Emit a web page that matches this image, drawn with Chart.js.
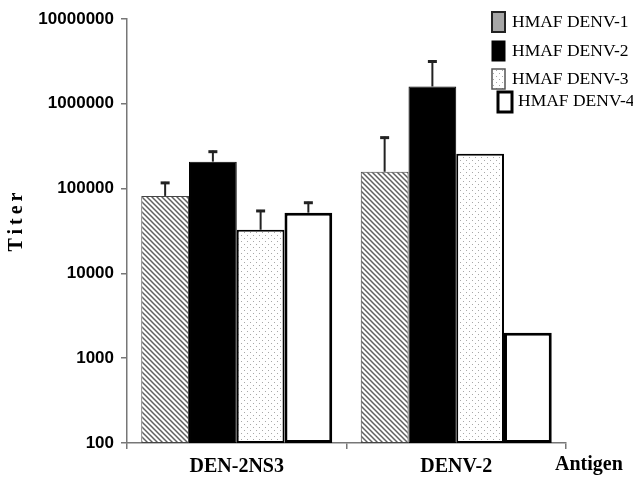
<!DOCTYPE html>
<html>
<head>
<meta charset="utf-8">
<script src="https://cdn.jsdelivr.net/npm/chart.js@4/dist/chart.umd.min.js"></script>
<style>
  html, body { margin: 0; padding: 0; background: #fff; }
  #wrap { width: 633px; height: 479px; position: relative; }
</style>
</head>
<body>
<div id="wrap"><canvas id="c" width="633" height="479"></canvas></div>
<script>
// ---- data ----
const categories = ['DEN-2NS3', 'DENV-2'];
const seriesLabels = ['HMAF DENV-1', 'HMAF DENV-2', 'HMAF DENV-3', 'HMAF DENV-4'];
const denv1 = [82000, 158000];
const denv2 = [208000, 1600000];
const denv3 = [32700, 258000];
const denv4 = [52000, 2000];
// upper end of error bars (null = none)
const denv1Err = [120000, 410000];
const denv2Err = [280000, 3240000];
const denv3Err = [56000, null];
const denv4Err = [70000, null];
const yTickValues = [100, 1000, 10000, 100000, 1000000, 10000000];
const yAxisTitle = 'Titer';
const xAxisTitle = 'Antigen';

// ---- patterns ----
function hatchPattern() {
  const s = 5;
  const c = document.createElement('canvas');
  c.width = s; c.height = s;
  const g = c.getContext('2d');
  g.fillStyle = '#fff'; g.fillRect(0, 0, s, s);
  g.strokeStyle = '#606060'; g.lineWidth = 1.5;
  g.beginPath();
  g.moveTo(-1, -1); g.lineTo(s + 1, s + 1);
  g.moveTo(-1, s - 1); g.lineTo(1, s + 1);
  g.moveTo(s - 1, -1); g.lineTo(s + 1, 1);
  g.stroke();
  return g.createPattern(c, 'repeat');
}
function dotPattern() {
  const s = 6;
  const c = document.createElement('canvas');
  c.width = s; c.height = s;
  const g = c.getContext('2d');
  g.fillStyle = '#fff'; g.fillRect(0, 0, s, s);
  g.fillStyle = '#a8a8a8';
  g.fillRect(1, 1, 1, 1);
  g.fillRect(4, 4, 1, 1);
  return g.createPattern(c, 'repeat');
}
const ctx = document.getElementById('c').getContext('2d');
const hatch = hatchPattern();
const dots = dotPattern();

const errors = [denv1Err, denv2Err, denv3Err, denv4Err];

const errorBarPlugin = {
  id: 'errorBars',
  afterDatasetsDraw(chart) {
    const c = chart.ctx;
    const y = chart.scales.y;
    chart.data.datasets.forEach((ds, di) => {
      const meta = chart.getDatasetMeta(di);
      meta.data.forEach((bar, i) => {
        const e = errors[di][i];
        if (e == null) return;
        const yt = y.getPixelForValue(e);
        c.save();
        c.strokeStyle = '#222';
        c.lineWidth = 2;
        c.beginPath();
        c.moveTo(bar.x, bar.y);
        c.lineTo(bar.x, yt);
        c.stroke();
        c.lineWidth = 3;
        c.beginPath();
        c.moveTo(bar.x - 4.5, yt + 1);
        c.lineTo(bar.x + 4.5, yt + 1);
        c.stroke();
        c.restore();
      });
    });
  }
};

const textPlugin = {
  id: 'texts',
  afterDraw(chart) {
    const c = chart.ctx;
    const area = chart.chartArea;
    // y axis title
    c.save();
    c.translate(17, (area.top + area.bottom) / 2 - 9);
    c.rotate(-Math.PI / 2);
    c.font = 'bold 20px "Liberation Serif", serif';
    c.fillStyle = '#000';
    c.textAlign = 'center';
    c.textBaseline = 'middle';
    try { c.letterSpacing = '4px'; } catch (e) {}
    c.fillText(yAxisTitle, 2, 0);
    c.restore();
    // x axis title
    c.save();
    c.font = 'bold 20px "Liberation Serif", serif';
    c.fillStyle = '#000';
    c.textAlign = 'left';
    c.textBaseline = 'middle';
    c.fillText(xAxisTitle, area.right - 11, 465);
    c.restore();
    // legend
    const items = chart.data.datasets;
    const rows = [
      { bx: 492, by: 12, bw: 13, bh: 20, tx: 512, ty: 22 },
      { bx: 492, by: 41, bw: 13, bh: 20, tx: 512, ty: 51 },
      { bx: 492, by: 69, bw: 13, bh: 20, tx: 512, ty: 79 },
      { bx: 498, by: 92, bw: 14, bh: 20, tx: 518, ty: 101 }
    ];
    const boxFill = ['#a6a6a6', '#000', dots, '#fff'];
    const boxStroke = ['#222', '#000', '#555', '#000'];
    const boxLW = [2, 1, 1.5, 3];
    items.forEach((ds, i) => {
      const r = rows[i];
      c.save();
      c.fillStyle = boxFill[i];
      c.fillRect(r.bx, r.by, r.bw, r.bh);
      c.strokeStyle = boxStroke[i];
      c.lineWidth = boxLW[i];
      c.strokeRect(r.bx, r.by, r.bw, r.bh);
      c.font = '17.5px "Liberation Serif", serif';
      c.fillStyle = '#000';
      c.textAlign = 'left';
      c.textBaseline = 'middle';
      c.fillText(ds.label, r.tx, r.ty);
      c.restore();
    });
  }
};

new Chart(ctx, {
  type: 'bar',
  data: {
    labels: categories,
    datasets: [
      { label: seriesLabels[0], data: denv1, backgroundColor: hatch, borderColor: '#444', borderWidth: 1, borderSkipped: false },
      { label: seriesLabels[1], data: denv2, backgroundColor: '#000', borderColor: '#000', borderWidth: 1, borderSkipped: false },
      { label: seriesLabels[2], data: denv3, backgroundColor: dots, borderColor: '#000', borderWidth: 2, borderSkipped: false },
      { label: seriesLabels[3], data: denv4, backgroundColor: '#fff', borderColor: '#000', borderWidth: 3, borderSkipped: false }
    ]
  },
  options: {
    responsive: false,
    animation: false,
    events: [],
    layout: { padding: { left: 0, right: 67, top: 19, bottom: 0 } },
    datasets: { bar: { categoryPercentage: 0.87, barPercentage: 1.0 } },
    plugins: { legend: { display: false }, tooltip: { enabled: false } },
    scales: {
      x: {
        type: 'category',
        offset: true,
        grid: { display: true, drawOnChartArea: false, offset: true, tickLength: 6, color: '#777', lineWidth: 1.5 },
        border: { display: true, color: '#777', width: 1.5 },
        ticks: { color: '#000', font: { family: '"Liberation Serif", serif', size: 20, weight: 'bold' }, padding: 6, maxRotation: 0 },
        afterFit(scale) { scale.height = 36; }
      },
      y: {
        type: 'logarithmic',
        min: 100,
        max: 10000000,
        afterBuildTicks(scale) { scale.ticks = yTickValues.map(v => ({ value: v, major: false })); },
        grid: { display: true, drawOnChartArea: false, tickLength: 6, color: '#777', lineWidth: 1.5 },
        border: { display: true, color: '#777', width: 1.5 },
        ticks: { color: '#000', font: { family: '"Liberation Sans", Arial, sans-serif', size: 17, weight: 'bold' }, padding: 7, callback: v => String(v) },
        afterFit(scale) { scale.width = 127; }
      }
    }
  },
  plugins: [errorBarPlugin, textPlugin]
});
</script>
</body>
</html>
